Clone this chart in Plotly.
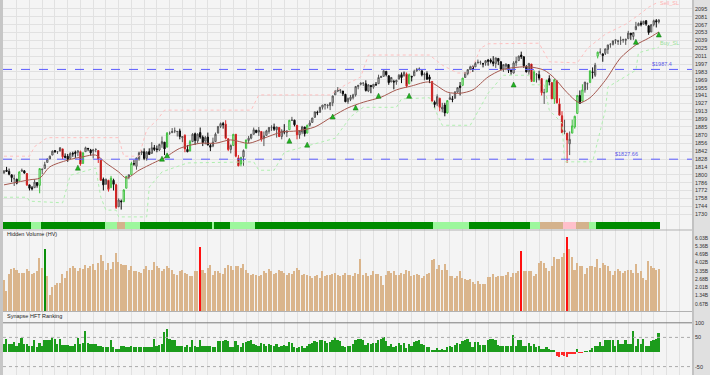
import plotly.graph_objects as go

W, H = 710, 375

# ---------------- price data (open, high, low, close) per month ----------------
nov13 = [(1803,1808,1802,1807),(1808,1814,1805,1806)]
dec13 = [(1806,1811,1799,1801),(1800,1800,1787,1795),(1793,1800,1780,1793),(1792,1793,1783,1785),(1789,1806,1789,1805),
         (1806,1811,1806,1808),(1807,1808,1802,1803),(1802,1803,1780,1782),(1782,1782,1772,1776),(1777,1780,1772,1775),
         (1777,1792,1777,1787),(1786,1787,1777,1781),(1781,1811,1767,1811),(1809,1810,1801,1810),(1811,1823,1811,1818),
         (1822,1829,1822,1828),(1828,1834,1828,1833),(1835,1843,1835,1842),(1843,1844,1839,1841),(1841,1842,1837,1841),
         (1842,1849,1842,1848)]
jan14 = [(1846,1846,1828,1832),(1833,1838,1829,1831),(1833,1837,1823,1827),(1829,1840,1829,1838),(1838,1841,1832,1837),
         (1840,1843,1830,1838),(1840,1844,1833,1842),(1841,1843,1816,1819),(1820,1840,1820,1839),(1841,1850,1841,1848),
         (1847,1847,1842,1846),(1844,1846,1834,1839),(1842,1846,1829,1844),(1845,1847,1840,1845),(1843,1843,1821,1828),
         (1826,1826,1790,1790),(1792,1795,1772,1782),(1783,1793,1783,1792),(1790,1791,1770,1774),(1777,1798,1777,1794),
         (1790,1793,1772,1783)]
feb14 = [(1782,1784,1739,1742),(1743,1758,1743,1755),(1753,1756,1738,1752),(1752,1774,1752,1773),(1776,1798,1776,1797),
         (1796,1800,1792,1800),(1800,1823,1800,1820),(1820,1826,1816,1819),(1815,1830,1809,1830),(1828,1841,1825,1839),
         (1839,1843,1835,1841),(1841,1847,1826,1829),(1829,1842,1825,1840),(1841,1847,1836,1836),(1838,1858,1838,1848),
         (1848,1853,1842,1845),(1846,1852,1840,1845),(1844,1855,1842,1854),(1855,1868,1848,1859)]
mar14 = [(1858,1858,1835,1846),(1849,1876,1849,1874),(1874,1877,1871,1874),(1875,1883,1874,1877),(1878,1884,1874,1878),
         (1877,1877,1868,1877),(1878,1882,1863,1868),(1866,1868,1858,1868),(1870,1872,1840,1846),(1845,1853,1840,1841),
         (1842,1862,1842,1859),(1859,1874,1858,1872),(1873,1875,1853,1861),(1860,1874,1856,1872),(1875,1884,1864,1867),
         (1867,1870,1851,1857),(1860,1869,1854,1866),(1867,1875,1852,1853),(1852,1855,1842,1849),(1851,1866,1849,1858),
         (1859,1875,1859,1872)]
apr14 = [(1874,1886,1874,1886),(1886,1893,1883,1891),(1891,1894,1882,1889),(1890,1897,1863,1865),(1864,1865,1842,1845),
         (1845,1854,1838,1852),(1852,1872,1852,1872),(1872,1872,1831,1833),(1830,1835,1815,1816),(1819,1831,1815,1831),
         (1832,1845,1816,1843),(1847,1862,1847,1862),(1861,1869,1856,1865),(1865,1872,1863,1872),(1872,1884,1872,1880),
         (1879,1880,1874,1875),(1876,1885,1869,1879),(1877,1877,1859,1863),(1865,1877,1851,1869),(1870,1880,1870,1878),
         (1877,1885,1873,1884)]
may14 = [(1884,1888,1878,1884),(1885,1891,1878,1881),(1880,1885,1866,1885),(1884,1885,1867,1868),(1868,1881,1863,1878),
         (1878,1890,1872,1876),(1875,1879,1867,1878),(1880,1897,1880,1897),(1897,1903,1896,1897),(1897,1898,1886,1889),
         (1888,1888,1863,1871),(1871,1878,1864,1878),(1876,1887,1872,1885),(1885,1885,1868,1873),(1874,1889,1874,1888),
         (1888,1897,1886,1892),(1893,1901,1893,1901),(1902,1912,1902,1912),(1911,1914,1906,1910),(1911,1921,1911,1920),
         (1920,1924,1916,1924)]
jun14 = [(1924,1926,1916,1925),(1923,1925,1918,1924),(1923,1929,1915,1928),(1928,1941,1922,1940),(1942,1950,1942,1949),
         (1949,1956,1947,1951),(1950,1951,1945,1951),(1949,1949,1940,1944),(1943,1944,1929,1930),(1930,1937,1926,1936),
         (1934,1942,1931,1938),(1937,1944,1934,1942),(1942,1958,1939,1957),(1957,1960,1952,1959),(1961,1964,1959,1963),
         (1963,1964,1958,1963),(1962,1968,1948,1950),(1949,1961,1947,1960),(1959,1959,1945,1957),(1956,1961,1953,1961),
         (1961,1965,1958,1960)]
jul14 = [(1962,1978,1962,1973),(1973,1976,1972,1975),(1975,1985,1975,1985),(1984,1984,1975,1978),(1976,1977,1960,1964),
         (1965,1974,1965,1973),(1966,1969,1952,1965),(1965,1969,1960,1968),(1970,1979,1970,1977),(1978,1982,1963,1973),
         (1976,1984,1975,1982),(1979,1982,1955,1958),(1962,1980,1961,1978),(1975,1976,1966,1974),(1976,1987,1976,1984),
         (1985,1990,1983,1987),(1988,1991,1985,1988),(1985,1985,1975,1978),(1978,1982,1968,1979),(1980,1984,1969,1970),
         (1974,1978,1963,1970),(1966,1966,1930,1931)]
aug14 = [(1929,1932,1917,1925),(1926,1943,1922,1939),(1936,1937,1913,1920),(1917,1928,1911,1920),(1924,1928,1904,1910),
         (1910,1932,1909,1932),(1934,1945,1934,1937),(1935,1940,1929,1934),(1936,1949,1936,1947),(1947,1955,1946,1955),
         (1958,1965,1941,1955),(1959,1972,1959,1972),(1973,1982,1973,1982),(1980,1988,1977,1987),(1987,1994,1987,1992),
         (1993,1994,1983,1988),(1992,2001,1992,1998),(1999,2005,1998,2000),(2000,2003,1996,2000),(1998,1999,1991,1997),
         (1999,2004,1994,2003)]
sep14 = [(2004,2006,1994,2002),(2004,2007,1998,2001),(2001,2011,1993,1998),(1998,2008,1990,2008),(2007,2007,1995,2002),
         (2001,2002,1986,1988),(1988,1996,1983,1996),(1993,1998,1986,1997),(1996,1997,1981,1986),(1986,1987,1978,1984),
         (1981,2002,1980,1999),(1999,2010,1993,2002),(2003,2012,2003,2011),(2013,2019,2006,2010),(2010,2010,1990,1994),
         (1992,1995,1982,1983),(1983,1999,1978,1998),(1997,1997,1965,1966),(1966,1986,1966,1983),(1978,1981,1964,1978),
         (1978,1985,1968,1972)]
oct14 = [(1971,1972,1941,1946),(1946,1953,1926,1946),(1947,1969,1947,1968),(1971,1977,1959,1965),(1964,1964,1935,1935),
         (1935,1970,1926,1969),(1967,1968,1927,1928),(1926,1936,1906,1906),(1905,1913,1874,1875),(1877,1898,1872,1878),
         (1874,1874,1821,1862),(1855,1877,1835,1863),(1874,1898,1874,1887),(1885,1905,1882,1904),(1909,1942,1909,1941),
         (1941,1950,1927,1927),(1931,1961,1931,1951),(1951,1965,1946,1965),(1962,1964,1951,1962),(1964,1985,1964,1985),
         (1983,1991,1971,1982),(1977,1999,1974,1995),(2011,2019,2007,2018)]
nov14 = [(2018,2025,2014,2018),(2015,2016,2001,2012),(2016,2024,2013,2024),(2023,2031,2015,2031),(2032,2034,2026,2032),
         (2032,2039,2030,2038),(2039,2040,2033,2040),(2037,2040,2031,2038),(2039,2046,2031,2039),(2040,2042,2035,2040),
         (2039,2042,2031,2041),(2042,2056,2042,2052),(2052,2052,2040,2049),(2046,2053,2040,2053),(2058,2072,2058,2064),
         (2065,2071,2065,2069),(2070,2074,2064,2067),(2068,2074,2067,2073),(2074,2075,2065,2068)]
dec14 = [(2065,2066,2049,2053),(2054,2068,2054,2067),(2067,2076,2064,2074),(2074,2077,2062,2072),(2072,2077,2069,2075)]

# 20-period moving average, read at sample bars (bar index, price)
ma_idx = [0,10,14,18,25,31,36,40,45,48,53,61,63,69,77,83,89,96,102,109,115,122,129,135,141,148,154,160,167,174,179,
          184,190,195,199,206,212,216,220,224,226,230,236,242,248,253,257]
ma_val = [1782,1791,1794,1814,1826,1832,1835,1821,1805,1794,1808,1826,1830,1847,1856,1856,1862,1856,1865,1876,1878,
          1885,1904,1919,1929,1938,1951,1958,1965,1947,1945,1951,1974,1986,1990,1992,1986,1972,1951,1933,1928,1937,
          1968,2008,2031,2043,2054]

# Sell / Buy stop levels (bar index, price)
sell_idx = [0,10,12,17,45,47,53,56,60,63,97,100,128,134,140,143,167,172,178,183,187,190,210,214,225,229,236,244,249,253,257]
sell_val = [1833,1833,1850,1866,1866,1833,1833,1880,1897,1915,1915,1942,1942,1960,1974,2013,2013,1995,1981,1981,2025,
            2033,2034,2001,1999,2025,2050,2068,2084,2098,2108]
buy_idx = [0,9,10,23,26,36,38,40,44,45,56,57,62,72,98,100,106,110,130,136,141,154,156,167,172,183,190,195,196,206,207,
           212,214,219,220,231,236,237,248,249,257]
buy_val = [1760,1760,1753,1750,1799,1812,1760,1737,1737,1725,1725,1778,1805,1821,1823,1808,1808,1840,1865,1903,1920,
           1920,1935,1937,1888,1888,1945,1972,1977,1977,1960,1960,1915,1892,1823,1823,1915,1956,1986,2017,2027]

# buy arrows (bar index, price)
arrow_idx = [29, 62, 64, 112, 119, 129, 138, 147, 159, 200, 248, 257]
arrow_val = [1817, 1833, 1839, 1865, 1858, 1908, 1924, 1945, 1945, 1965, 2041, 2054]

# support / resistance levels
level_hi = 1987.4
level_lo = 1827.66

# trend strip segments (start bar, state)
strip_start = [0, 11, 15, 40, 45, 48, 54, 82, 83, 89, 99, 169, 183, 207, 211, 220, 225, 230, 233]
strip_state = ['G','L','G','L','T','L','G','L','G','L','G','L','G','L','T','P','T','L','G']

# hidden volume (billions)
vol_a = [2.6,1.67,3.1,3.5,3.6,3.4,3.15,3.15,3.15,3.5,3.35,3.1,3.15,3.3,4.4,3.55,5.13,2.9,1.35,2.07,2.2,2.35,2.35,3.08,
         2.8,3.35,3.6,3.7,3.55,3.35,3.6,3.5,3.78,3.55,3.75,3.9,3.45,3.97,4.6,4.16,3.45,4.0,3.5,4.05,4.78,4.05,3.9,3.8,
         3.78,3.4,3.7,3.35,3.3,3.27,3.15,3.5,3.7,3.45,3.45,4.05,3.7,3.55]
vol_b = [3.37,3.5,3.7,3.55,3.4,3.1,3.0,3.37,3.4,3.2,3.1,2.9,2.95,3.37,3.37,5.3,3.4,3.2,3.55,3.8,3.0,3.3,3.37,3.2,3.1,
         3.55,3.8,3.7,3.4,3.75,3.75,3.6]
vol_c = [3.9,3.4,3.2,3.0,3.1,3.0,2.9,3.0,3.3,3.2,3.5,
         3.3,3.1,3.2,3.4,3.3,3.2,3.0,3.2,3.1,3.3,3.6,3.4,3.0,3.1,3.0,2.9,2.8,2.9,3.0,2.8,3.3,
         2.9,3.0,3.0,3.1,3.2,3.0,2.9,3.0,3.2,3.0,3.0,2.9,3.2,3.1,4.3,3.0,3.2,2.9,3.0,3.3,3.1,
         3.1,2.9,2.2,3.0,3.3,3.2,3.3,3.0,3.0,3.2,3.1,3.4,3.3,2.9,3.0,3.1,3.0,2.8,2.9,3.1,3.2,4.2,
         4.3,3.5,3.8,3.4,3.9,3.4,2.9,2.9,2.8,2.9,3.3,2.8,2.7,2.6]
vol_d = [2.7,2.4,2.3,2.5,2.3,2.3,2.3,2.86,2.86,3.1,2.86,2.9,2.95,2.95,3.0,3.27,2.86,3.2,3.2,3.3,4.92,3.37,3.3,3.35,
         3.3,2.95,3.1,3.97,4.18,3.97,3.56,3.37,3.75,4.46,4.3,4.3,4.5,4.78,6.08,5.1,4.46,3.4,4.02,3.75,3.75,3.1,3.6,3.7,
         3.75,3.65,4.3,3.56,3.97,3.8,3.75,3.37,3.0,3.3,3.5,3.37,3.2,3.3,3.4,3.4,3.14,3.92,3.14,3.37,2.78,2.56,4.18,3.7,
         3.56,3.4,3.5]
hv_buy_bars = [16]
hv_sell_bars = [77, 203, 221]
vol_ticks = [0.67, 1.34, 2.01, 2.68, 3.35, 4.02, 4.69, 5.36, 6.03]

# Synapse HFT ranking
hft_a = [27,43,27,27,35,22,32,47,27,27,22,20,41,18,32,22,41,41,41,47,43,27,43,24,24,24,22,22,27,47,27,32,73,30,27,26,
         26,22,22,18,16,18,41,16,10,10,22,22,18,16,22,16,18,16,18,18,18,18,18,45,20,24,27,67,79,43,41,41,22,22,22,18,
         24,18,41,22,18,41,22,20,20,22,18,18,39,39,39,41,39,18,16,39,24,18]
hft_b = [30,35,38,40,28,25,22,30,26,20,28,
         25,22,28,18,20,24,22,35,30,18,12,16,20,14,22,26,30,38,34,40,42,
         36,30,34,42,48,40,36,22,16,20,22,26,40,44,46,42,24,30,28,30,32,
         40,44,52,36,20,26,18,22,30,24,32,14,26,22,34,38,40,26,24,18,16,8,
         6,14,8,10,6,16,20,18,24,30,28,36,42,46]
hft_c = [35,18,35,35,24,24,24,41,43,43,41,24,22,22,22,22,22,58,22,41,41,22,22,32,22,27,18,22,10,10,18,10,5,5,-13,-18,
         -10,-13,-16,-7,-7,-5,11,-3,-1,1,1,5,13,22,22,35,22,41,41,41,41,22,41,27,27,41,27,27,73,22,43,27,43,22,22,39,
         41,43,64]

price_ticks = [2110,2095,2081,2067,2053,2039,2025,2011,1997,1983,1969,1955,1941,1927,1913,1899,1885,1870,1856,
               1842,1828,1814,1800,1786,1772,1758,1744,1730]

# ---------------- build ----------------
rows = nov13 + dec13 + jan14 + feb14 + mar14 + apr14 + may14 + jun14 + jul14 + aug14 + sep14 + oct14 + nov14 + dec14
N = len(rows)
bars = list(range(N))
opens = [r[0] for r in rows]
highs = [r[1] for r in rows]
lows = [r[2] for r in rows]
closes = [r[3] for r in rows]
volume = vol_a + vol_b + vol_c + vol_d
hft = hft_a + hft_b + hft_c


def pyf(py):
    return 1 - py / H


def bar_at(px):
    return (px - 4) / 2.548


X0, X1 = 3, 692
xr = [bar_at(X0), bar_at(X1)]
xdom = [X0 / W, X1 / W]
FONT = 'Liberation Sans, Arial, sans-serif'
TICKF = dict(family=FONT, size=5.5, color='#333333')
TICKV = dict(family=FONT, size=5, color='#333333')
GRID = '#e1e1e1'

fig = go.Figure()

# candles in 4 style groups
prev = [opens[0]] + closes[:-1]
chg = [(c - p) / p * 100 for c, p in zip(closes, prev)]
groups = {'up': [], 'upg': [], 'dn': [], 'dnr': []}
for i in bars:
    if closes[i] >= opens[i]:
        groups['upg' if chg[i] >= 0.8 else 'up'].append(i)
    else:
        groups['dnr' if chg[i] <= -0.8 else 'dn'].append(i)
styles = {'up': ('#dedede', '#555555'), 'upg': ('#f0fff0', '#3cbf3c'),
          'dn': ('#0a0a0a', '#0a0a0a'), 'dnr': ('#0a0a0a', '#e02424')}

# stop lines and MA first (under candles)
fig.add_trace(go.Scatter(x=sell_idx, y=sell_val, mode='lines', line=dict(color='#ffc0c0', width=1, dash='dot'),
                         xaxis='x', yaxis='y', hoverinfo='skip', showlegend=False))
fig.add_trace(go.Scatter(x=buy_idx, y=buy_val, mode='lines', line=dict(color='#b0efb0', width=1, dash='dot'),
                         xaxis='x', yaxis='y', hoverinfo='skip', showlegend=False))
fig.add_trace(go.Scatter(x=ma_idx, y=ma_val, mode='lines', line=dict(color='#a5584f', width=1, shape='spline', smoothing=0.8),
                         xaxis='x', yaxis='y', hoverinfo='skip', showlegend=False))

for k, ids in groups.items():
    fill, line = styles[k]
    st = dict(fillcolor=fill, line=dict(color=line, width=1))
    fig.add_trace(go.Candlestick(x=ids, open=[opens[i] for i in ids], high=[highs[i] for i in ids],
                                 low=[lows[i] for i in ids], close=[closes[i] for i in ids],
                                 increasing=st, decreasing=st, whiskerwidth=0,
                                 xaxis='x', yaxis='y', hoverinfo='skip', showlegend=False))

fig.add_trace(go.Scatter(x=arrow_idx, y=arrow_val, mode='markers',
                         marker=dict(symbol='arrow-up', size=5, color='#22b522', line=dict(color='#0d6e0d', width=0.5)),
                         xaxis='x', yaxis='y', hoverinfo='skip', showlegend=False))

# trend strip
strip_colors = {'G': '#008c00', 'L': '#9cf79c', 'T': '#d4b28c', 'P': '#ffc0cb'}
bar_state = []
for s in range(len(strip_start)):
    end = strip_start[s + 1] if s + 1 < len(strip_start) else N
    bar_state += [strip_state[s]] * (end - strip_start[s])
fig.add_trace(go.Bar(x=bars, y=[0.81] * N, base=[0.08] * N, width=1.0,
                     marker=dict(color=[strip_colors[s] for s in bar_state], line=dict(width=0)),
                     xaxis='x2', yaxis='y2', hoverinfo='skip', showlegend=False))

# hidden volume
vcol = []
for i in bars:
    if i in hv_sell_bars:
        vcol.append('#ff1010')
    elif i in hv_buy_bars:
        vcol.append('#0a8f0a')
    else:
        vcol.append('#dab58c')
fig.add_trace(go.Bar(x=bars, y=volume, width=0.6, marker=dict(color=vcol, line=dict(width=0)),
                     xaxis='x3', yaxis='y3', hoverinfo='skip', showlegend=False))

# HFT ranking
fig.add_trace(go.Bar(x=bars, y=hft, width=0.7,
                     marker=dict(color=['#1c9c1c' if v >= 0 else '#ff2a2a' for v in hft], line=dict(width=0)),
                     xaxis='x4', yaxis='y4', hoverinfo='skip', showlegend=False))

xcommon = dict(range=xr, domain=xdom, showticklabels=False, showgrid=True, gridcolor=GRID, gridwidth=1,
               dtick=5, tick0=0, zeroline=False, showline=False, ticks='', fixedrange=True)

fig.update_layout(
    width=W, height=H, margin=dict(l=0, r=0, t=0, b=0),
    paper_bgcolor='#e0e0e0', plot_bgcolor='#f4f4f4',
    showlegend=False, bargap=0,
    xaxis=dict(xcommon, anchor='y', rangeslider=dict(visible=False)),
    xaxis2=dict(xcommon, anchor='y2'),
    xaxis3=dict(xcommon, anchor='y3'),
    xaxis4=dict(xcommon, anchor='y4'),
    yaxis=dict(domain=[pyf(221), 1], range=[1717.7, 2110.9], side='right', anchor='x',
               tickvals=price_ticks, ticktext=[str(t) for t in price_ticks], tickfont=TICKF,
               ticklabelstandoff=2,
               showgrid=True, gridcolor=GRID, zeroline=False, ticks='', fixedrange=True),
    yaxis2=dict(domain=[pyf(230), pyf(221)], range=[0, 1], anchor='x2', showticklabels=False,
                showgrid=False, zeroline=False, fixedrange=True),
    yaxis3=dict(domain=[pyf(312), pyf(230)], range=[0, 6.661], side='right', anchor='x3',
                tickvals=vol_ticks, ticktext=['%.2fB' % v for v in vol_ticks], tickfont=TICKV,
                ticklabelstandoff=2,
                showgrid=False, zeroline=False, ticks='', fixedrange=True),
    yaxis4=dict(domain=[0, pyf(312)], range=[-78.8, 137], side='right', anchor='x4',
                tickvals=[100, 50, -50], ticktext=['100', '50', '-50'], tickfont=TICKF,
                ticklabelstandoff=2,
                showgrid=False, zeroline=False, ticks='', fixedrange=True),
)

shapes = []
# support / resistance dashed lines
for lv in (level_hi, level_lo):
    shapes.append(dict(type='line', xref='x domain', yref='y', x0=0, x1=1, y0=lv, y1=lv,
                       line=dict(color='#5c5cff', width=1, dash='dash')))
# HFT guide lines
shapes.append(dict(type='line', xref='x4 domain', yref='y4', x0=0, x1=1, y0=100, y1=100,
                   line=dict(color='#7c7c7c', width=1)))
for lv in (50, -50):
    shapes.append(dict(type='line', xref='x4 domain', yref='y4', x0=0, x1=1, y0=lv, y1=lv,
                       line=dict(color='#ababab', width=1, dash='dot')))
# pane separators
for py in (230, 311.5):
    shapes.append(dict(type='line', xref='paper', yref='paper', x0=xdom[0], x1=xdom[1], y0=pyf(py), y1=pyf(py),
                       line=dict(color='#b2b2b2', width=1.2)))
# frame bands
shapes.append(dict(type='rect', xref='paper', yref='paper', x0=0, x1=X0 / W, y0=0, y1=1, layer='below',
                   fillcolor='#c6c6c6', line=dict(width=0)))
shapes.append(dict(type='rect', xref='paper', yref='paper', x0=X1 / W, x1=(X1 + 2.0) / W, y0=0, y1=1, layer='below',
                   fillcolor='#c2c2c2', line=dict(width=0)))
fig.update_layout(shapes=shapes)

small = dict(family=FONT, size=5.5)
ann = [
    dict(x=bar_at(650), y=level_hi, xref='x', yref='y', text='$' + str(level_hi), showarrow=False,
         xanchor='left', yanchor='bottom', font=dict(small, color='#5a5ae6')),
    dict(x=bar_at(613), y=level_lo, xref='x', yref='y', text='$' + str(level_lo), showarrow=False,
         xanchor='left', yanchor='bottom', font=dict(small, color='#5a5ae6')),
    dict(x=bar_at(658), y=2105, xref='x', yref='y', text='Sell_SL', showarrow=False,
         xanchor='left', yanchor='middle', font=dict(small, color='#ffb0b0')),
    dict(x=bar_at(658), y=2034, xref='x', yref='y', text='Buy_SL', showarrow=False,
         xanchor='left', yanchor='middle', font=dict(small, color='#98e098')),
    dict(x=5 / W, y=pyf(234), xref='paper', yref='paper', text='Hidden Volume (HV)', showarrow=False,
         xanchor='left', yanchor='middle', font=dict(small, color='#222222')),
    dict(x=5 / W, y=pyf(315.5), xref='paper', yref='paper', text='Synapse HFT Ranking', showarrow=False,
         xanchor='left', yanchor='middle', font=dict(small, color='#222222')),
]
fig.update_layout(annotations=ann)

fig.write_html('out.html')
